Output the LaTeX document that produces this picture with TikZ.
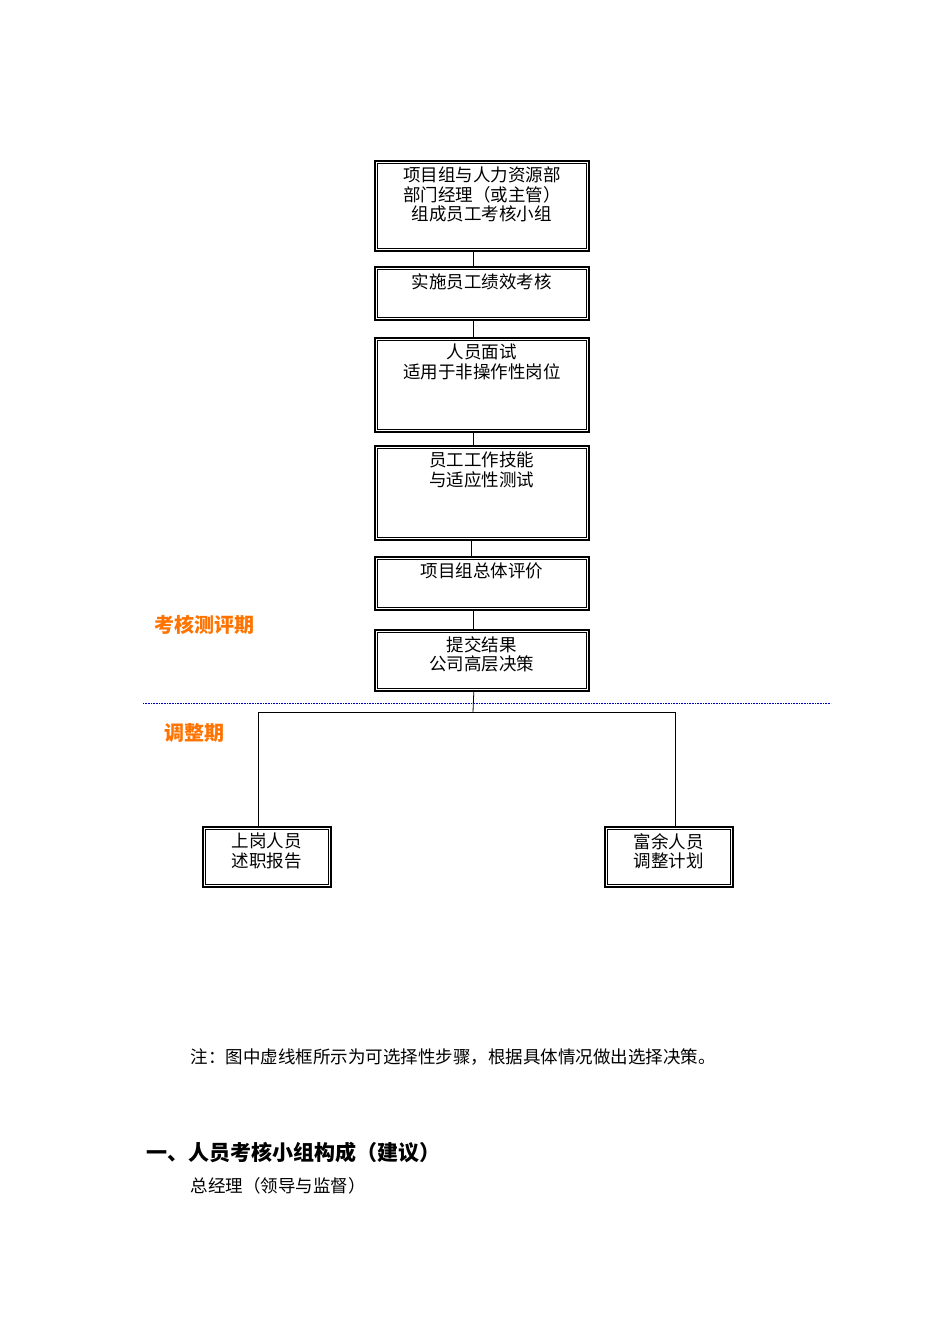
\documentclass[tikz,border=0pt]{standalone}
\usepackage{fontspec}
\setmainfont{Noto Sans CJK SC}
\begin{document}
\begin{tikzpicture}[x=1pt,y=1pt,
  box/.style={draw, line width=1.6pt, inner sep=0, anchor=north west},
  txt/.style={anchor=north, font=\fontsize{17.5}{19.5}\selectfont, align=center, inner sep=0, yshift=-7pt},
  ln/.style={line width=0.8pt}]
\useasboundingbox (0,0) rectangle (950,-1344);
\node[box, minimum width=214pt, minimum height=90pt] (b1) at (374,-160) {};
\node[txt] at (b1.north) {项目组与人力资源部\\部门经理（或主管）\\组成员工考核小组};
\node[box, minimum width=214pt, minimum height=53pt] (b2) at (374,-266) {};
\node[txt] at (b2.north) {实施员工绩效考核};
\node[box, minimum width=214pt, minimum height=94pt] (b3) at (374,-337) {};
\node[txt] at (b3.north) {人员面试\\适用于非操作性岗位};
\node[box, minimum width=214pt, minimum height=94pt] (b4) at (374,-445) {};
\node[txt] at (b4.north) {员工工作技能\\与适应性测试};
\node[box, minimum width=214pt, minimum height=53pt] (b5) at (374,-556) {};
\node[txt] at (b5.north) {项目组总体评价};
\node[box, minimum width=214pt, minimum height=61pt] (b6) at (374,-629) {};
\node[txt] at (b6.north) {提交结果\\公司高层决策};
\node[box, minimum width=128pt, minimum height=60pt] (l) at (202,-826) {};
\node[txt] at (l.north) {上岗人员\\述职报告};
\node[box, minimum width=128pt, minimum height=60pt] (r) at (604,-826) {};
\node[txt] at (r.north) {富余人员\\调整计划};
\foreach \b in {b1,b2,b3,b4,b5,b6,l,r}
  \draw[line width=0.8pt] ([shift={(3.5,-3.5)}]\b.north west) rectangle ([shift={(-3.5,3.5)}]\b.south east);
\draw[ln] ([xshift=-8pt]b1.south) -- ([xshift=-8pt]b2.north);
\draw[ln] ([xshift=-8pt]b2.south) -- ([xshift=-8pt]b3.north);
\draw[ln] ([xshift=-8pt]b3.south) -- ([xshift=-8pt]b4.north);
\draw[ln] ([xshift=-10pt]b4.south) -- ([xshift=-10pt]b5.north);
\draw[ln] ([xshift=-8pt]b5.south) -- ([xshift=-8pt]b6.north);
\coordinate (j) at (473,-712);
\draw[ln] ([xshift=-8pt]b6.south) -- (j);
\draw[ln] (j) -- (258,-712) -- (l.north -| 258,0);
\draw[ln] (j) -- (675,-712) -- (r.north -| 675,0);
\draw[blue!70!black, densely dotted, line width=0.6pt] (143,-703) -- (831,-703);
\node[anchor=west, text=orange!90!red, font=\fontsize{20}{22}\selectfont\bfseries] (k1) at (151,-625) {考核测评期};
\node[anchor=west, text=orange!90!red, font=\fontsize{20}{22}\selectfont\bfseries] (k2) at (161,-733) {调整期};
\node[anchor=west, font=\fontsize{17.5}{19}\selectfont] (n) at (187,-1057) {注：图中虚线框所示为可选择性步骤，根据具体情况做出选择决策。};
\node[anchor=west, font=\fontsize{21}{23}\selectfont\bfseries] (h) at (143,-1152) {一、人员考核小组构成（建议）};
\node[anchor=west, font=\fontsize{17.5}{19}\selectfont] (g) at (187,-1186) {总经理（领导与监督）};
\end{tikzpicture}
\end{document}
